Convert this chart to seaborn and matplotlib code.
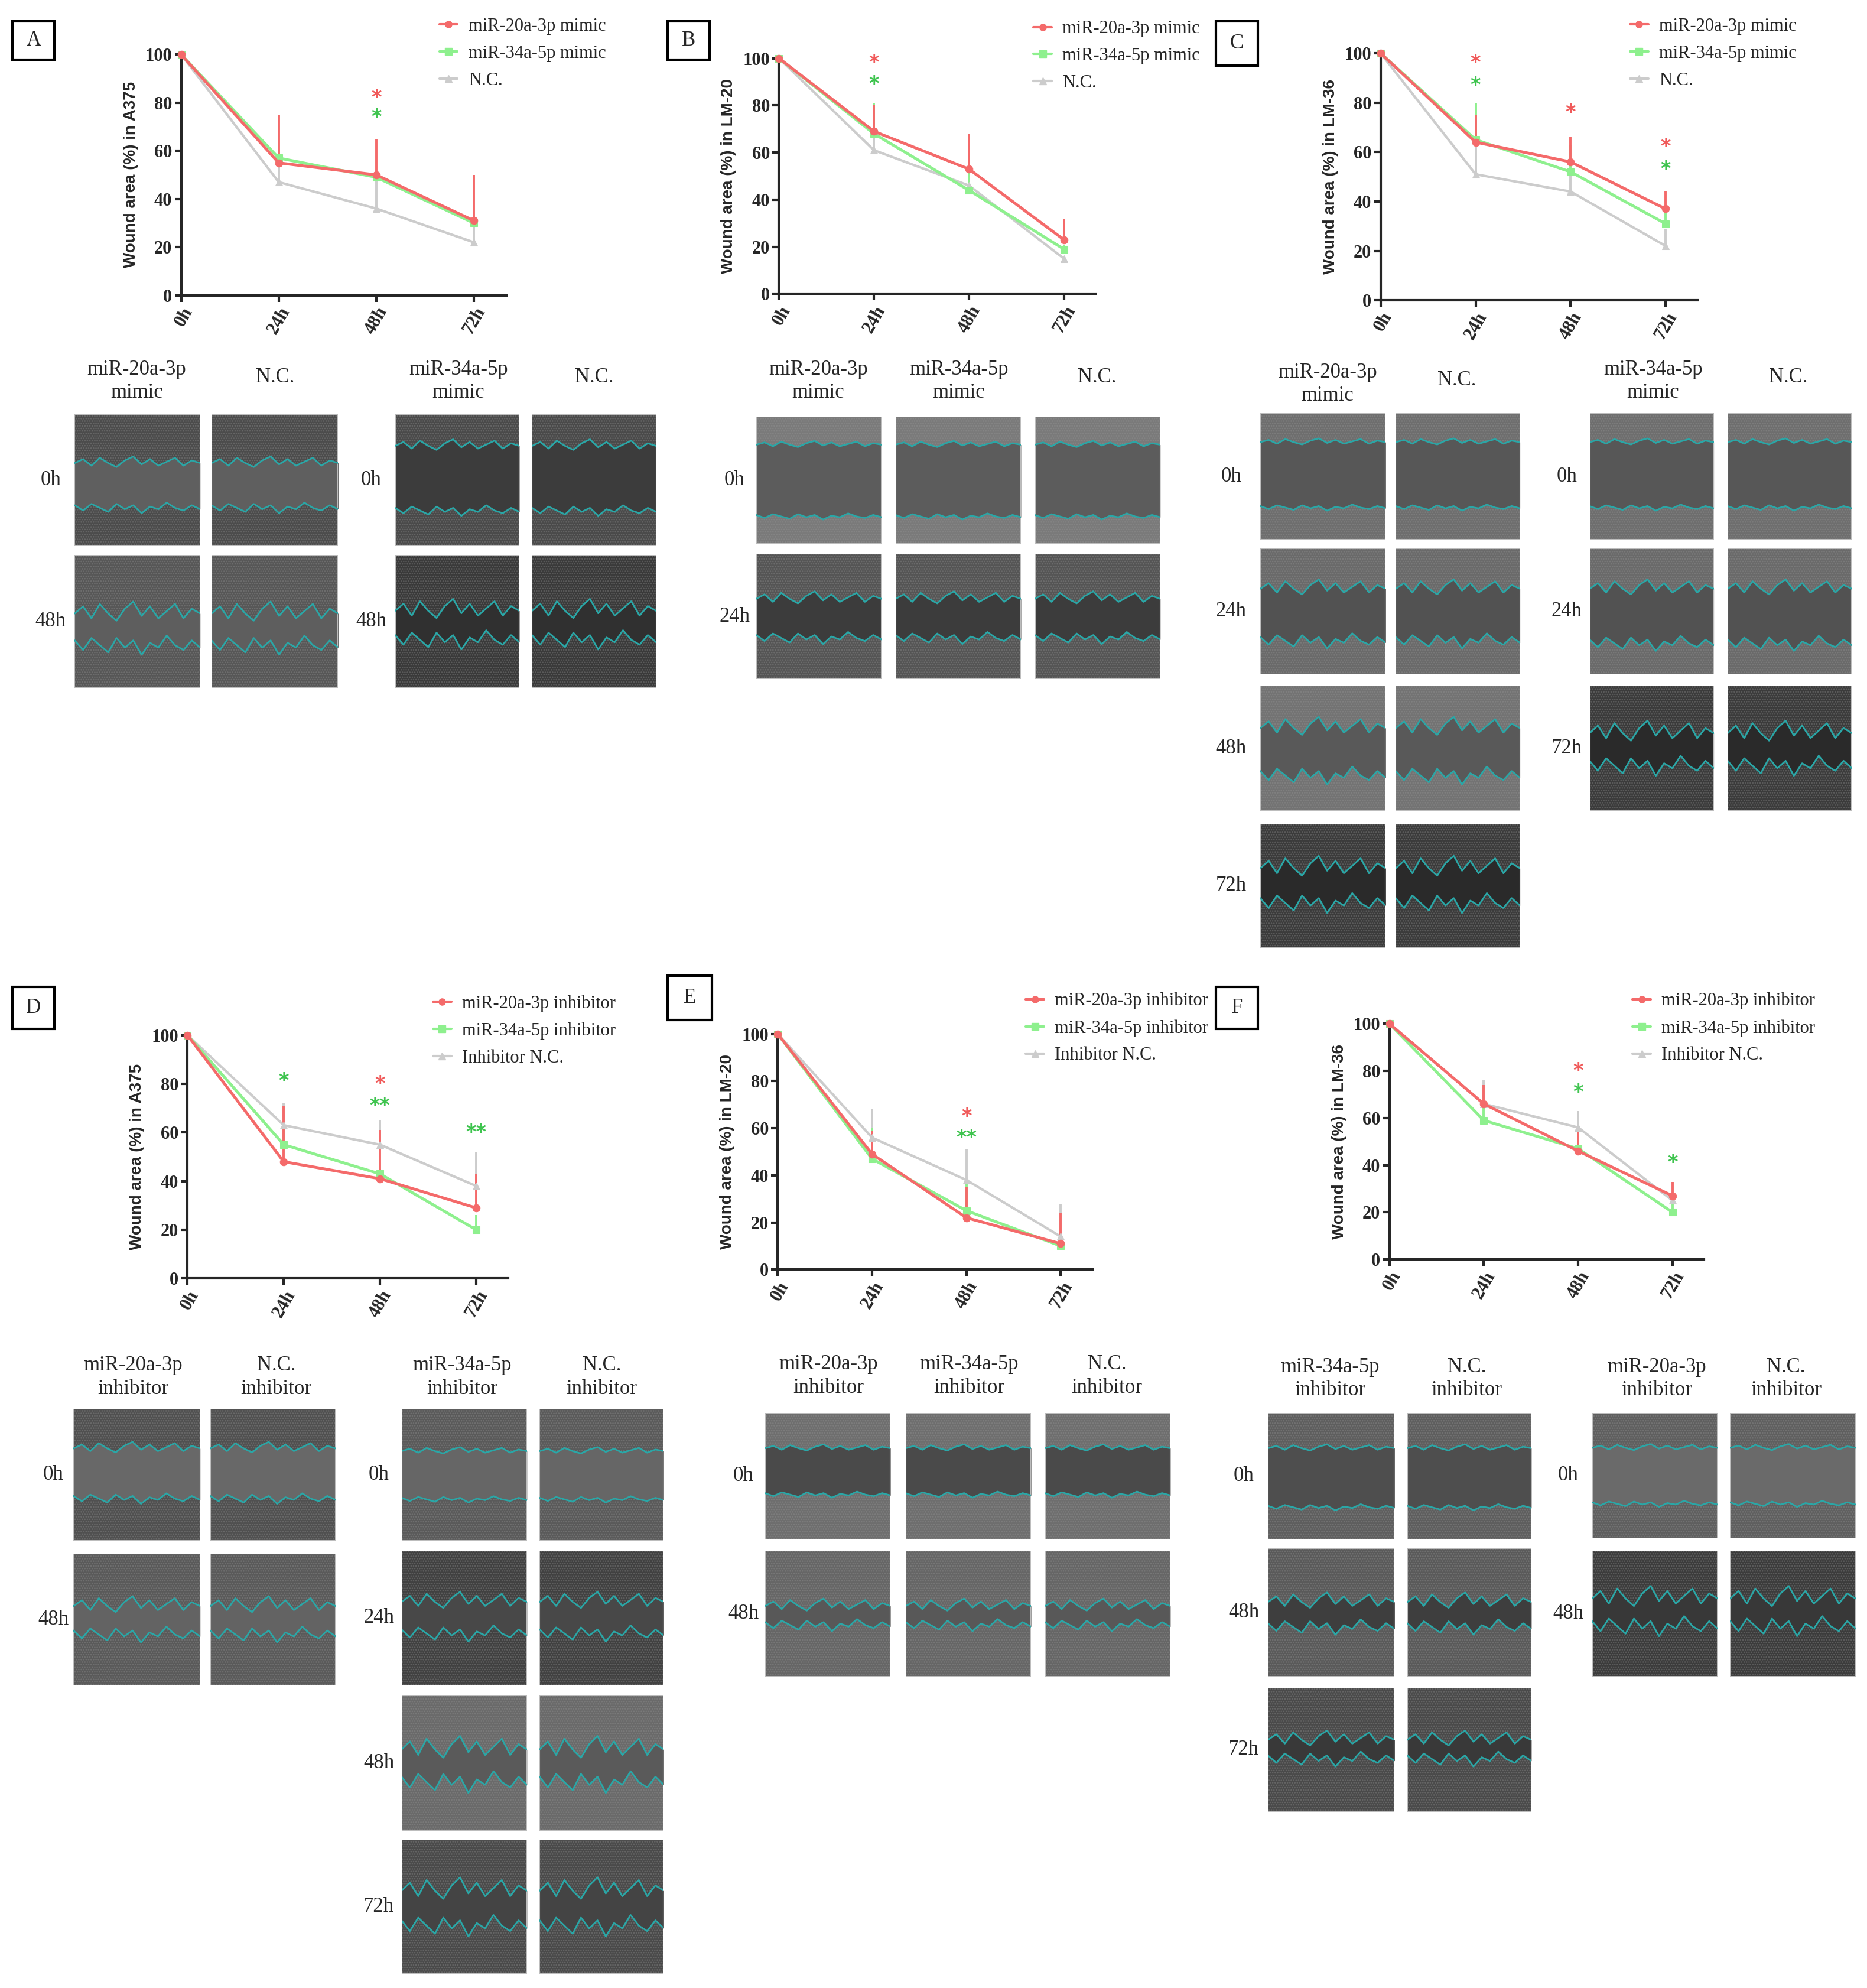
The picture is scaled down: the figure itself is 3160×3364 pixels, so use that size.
import numpy as np
import pandas as pd
import seaborn as sns
import matplotlib.pyplot as plt
from matplotlib.lines import Line2D
from matplotlib.patches import Rectangle

sns.set_style("ticks")
plt.rcParams["font.family"] = ["Liberation Serif", "DejaVu Serif"]
plt.rcParams["hatch.linewidth"] = 1.2

# ---------------- data ----------------
times = [0, 24, 48, 72]
time_labels = ["0h", "24h", "48h", "72h"]

# A: A375, mimic
a_mir20 = [100, 55, 50, 31]
a_mir20_err = [0, 20, 15, 19]
a_mir34 = [100, 57, 49, 30]
a_mir34_err = [0, 0, 0, 0]
a_nc = [100, 47, 36, 22]
a_nc_err = [0, 8, 14, 8]

# B: LM-20, mimic
b_mir20 = [100, 69, 53, 23]
b_mir20_err = [0, 11, 15, 9]
b_mir34 = [100, 68, 44, 19]
b_mir34_err = [0, 13, 8, 2]
b_nc = [100, 61, 46, 15]
b_nc_err = [0, 6, 0, 0]

# C: LM-36, mimic
c_mir20 = [100, 64, 56, 37]
c_mir20_err = [0, 11, 10, 7]
c_mir34 = [100, 65, 52, 31]
c_mir34_err = [0, 15, 11, 5]
c_nc = [100, 51, 44, 22]
c_nc_err = [0, 12, 7, 7]

# D: A375, inhibitor
d_mir20 = [100, 48, 41, 29]
d_mir20_err = [0, 23, 20, 14]
d_mir34 = [100, 55, 43, 20]
d_mir34_err = [0, 8, 2, 6]
d_nc = [100, 63, 55, 38]
d_nc_err = [0, 9, 10, 14]

# E: LM-20, inhibitor
e_mir20 = [100, 49, 22, 11]
e_mir20_err = [0, 10, 13, 13]
e_mir34 = [100, 47, 25, 10]
e_mir34_err = [0, 13, 13, 2]
e_nc = [100, 56, 38, 14]
e_nc_err = [0, 12, 13, 14]

# F: LM-36, inhibitor
f_mir20 = [100, 66, 46, 27]
f_mir20_err = [0, 8, 9, 6]
f_mir34 = [100, 59, 47, 20]
f_mir34_err = [0, 6, 8, 5]
f_nc = [100, 66, 56, 25]
f_nc_err = [0, 10, 7, 3]

# significance marks: (time, height, text, series)
a_stars = [(48, 82, "*", "r"), (48, 74, "*", "g")]
b_stars = [(24, 98, "*", "r"), (24, 89, "*", "g")]
c_stars = [(24, 96, "*", "r"), (24, 87, "*", "g"), (48, 76, "*", "r"),
           (72, 62, "*", "r"), (72, 53, "*", "g")]
d_stars = [(24, 81, "*", "g"), (48, 80, "*", "r"), (48, 71, "**", "g"),
           (72, 60, "**", "g")]
e_stars = [(48, 65, "*", "r"), (48, 56, "**", "g")]
f_stars = [(48, 80, "*", "r"), (48, 71, "*", "g"), (72, 41, "*", "g")]

mimic_labels = ["miR-20a-3p mimic", "miR-34a-5p mimic", "N.C."]
inhib_labels = ["miR-20a-3p inhibitor", "miR-34a-5p inhibitor", "Inhibitor N.C."]

# ---------------- styling ----------------
RED = "#f46a6a"
GREEN = "#8ef08e"
GRAY = "#cccccc"
STAR = {"r": "#f05a5a", "g": "#3fc44f"}
CYAN = "#2aa7a7"

W, H = 1474.0, 1569.0  # layout grid (reference thumbnail pixels)

fig = plt.figure(figsize=(31.6, 33.64), dpi=100)
fig.patch.set_facecolor("white")


def fx(x):
    return x / W


def fy(y):
    return 1 - y / H


def panel_letter(letter, x0, y0, x1, y1):
    fig.patches.append(Rectangle((fx(x0), fy(y1)), fx(x1) - fx(x0), fy(y0) - fy(y1),
                                 transform=fig.transFigure, fill=False,
                                 edgecolor="black", linewidth=3))
    fig.text(fx((x0 + x1) / 2), fy((y0 + y1) / 2), letter, ha="center",
             va="center", fontsize=25)


def chart(x0, y0, y100, spacing, mir20, mir20_err, mir34, mir34_err, nc, nc_err,
          stars, labels, ylabel, leg_x, leg_y):
    width = spacing * 80 / 24
    ax = fig.add_axes([fx(x0), fy(y0), width / W, (y0 - y100) / H])
    ax.set_facecolor("none")
    series = [(nc, nc_err, GRAY, "^", 3.0), (mir34, mir34_err, GREEN, "s", 3.5),
              (mir20, mir20_err, RED, "o", 3.5)]
    for vals, errs, color, marker, lw in series:
        df = pd.DataFrame({"time": times, "value": vals})
        sns.lineplot(data=df, x="time", y="value", color=color, marker=marker,
                     markersize=9, markeredgecolor=color, linewidth=lw, ax=ax,
                     legend=False, clip_on=False, zorder=3)
        ax.errorbar(times, vals, yerr=[[0] * len(errs), errs], fmt="none",
                    ecolor=color, elinewidth=2.8, capsize=0, clip_on=False, zorder=2)
    for t, h, s, key in stars:
        ax.text(t, h, s, ha="center", va="center", color=STAR[key], fontsize=24,
                fontweight="bold", family="DejaVu Sans")
    ax.set_xlim(0, 80)
    ax.set_ylim(0, 100)
    ax.set_xticks(times)
    ax.set_xticklabels(time_labels, rotation=60, ha="right", rotation_mode="anchor",
                       fontsize=22, fontweight="bold")
    ax.set_yticks(range(0, 101, 20))
    ax.set_yticklabels([str(v) for v in range(0, 101, 20)], fontsize=22,
                       fontweight="bold")
    ax.set_xlabel("")
    ax.set_ylabel(ylabel, fontsize=20, fontweight="bold", family="Liberation Sans",
                  labelpad=8)
    sns.despine(ax=ax)
    for sp in ("left", "bottom"):
        ax.spines[sp].set_linewidth(3)
    ax.tick_params(width=3, length=8, direction="out", pad=3)
    handles = [Line2D([0], [0], color=c, marker=m, lw=3, markersize=8)
               for c, m in ((RED, "o"), (GREEN, "s"), (GRAY, "^"))]
    ax.legend(handles, labels, loc="upper left", bbox_to_anchor=(fx(leg_x), fy(leg_y)),
              bbox_transform=fig.transFigure, frameon=False, fontsize=22,
              handlelength=1.0, handletextpad=0.6, labelspacing=0.55,
              borderaxespad=0, borderpad=0)
    return ax


# hand-traced wobble of the wound edges
wave_top = [0.00, 0.03, -0.02, 0.04, 0.00, -0.03, 0.02, 0.05, -0.01, 0.03,
            -0.02, 0.01, 0.04, -0.02, 0.02, 0.00]
wave_bot = [0.01, -0.03, 0.02, -0.01, -0.04, 0.02, -0.02, 0.01, -0.05, 0.00,
            -0.02, 0.03, -0.01, -0.03, 0.01, -0.02]


def well(x0, x1, y0, y1, cell, wound, top, bot, jag):
    ax = fig.add_axes([fx(x0), fy(y1), (x1 - x0) / W, (y1 - y0) / H])
    ax.set_xlim(0, 1)
    ax.set_ylim(0, 1)
    ax.set_axis_off()
    ax.add_patch(Rectangle((0, 0), 1, 1, facecolor=cell, edgecolor="none"))
    ax.add_patch(Rectangle((0, 0), 1, 1, facecolor="none", edgecolor="#9a9a9a",
                           hatch="....", linewidth=0, alpha=0.35))
    xs = np.linspace(0, 1, len(wave_top))
    yt = top + jag * np.array(wave_top)
    yb = bot + jag * np.array(wave_bot)
    ax.fill_between(xs, yb, yt, color=wound, linewidth=0)
    ax.plot(xs, yt, color=CYAN, lw=2)
    ax.plot(xs, yb, color=CYAN, lw=2)
    ax.add_patch(Rectangle((0, 0), 1, 1, facecolor="none", edgecolor="#bdbdbd",
                           linewidth=1.5))


def block(cols, rows, styles, row_labels, label_x, headers, header_y):
    for (y0, y1), (cell, wound, top, bot, jag), lab in zip(rows, styles, row_labels):
        for x0, x1 in cols:
            well(x0, x1, y0, y1, cell, wound, top, bot, jag)
        fig.text(fx(label_x), fy((y0 + y1) / 2), lab, ha="center", va="center",
                 fontsize=25)
    for text, xc in headers:
        yy = header_y if "\n" in text else header_y - 3
        fig.text(fx(xc), fy(yy), text, ha="center", va="center", fontsize=25,
                 linespacing=1.25)


# ---------------- charts ----------------
panel_letter("A", 10, 17, 43, 47)
chart(143, 233, 43, 77, a_mir20, a_mir20_err, a_mir34, a_mir34_err, a_nc, a_nc_err,
      a_stars, mimic_labels, "Wound area (%) in A375", 347, 14)
panel_letter("B", 527, 17, 560, 47)
chart(615, 232, 46, 75, b_mir20, b_mir20_err, b_mir34, b_mir34_err, b_nc, b_nc_err,
      b_stars, mimic_labels, "Wound area (%) in LM-20", 816, 16)
panel_letter("C", 960, 17, 993, 52)
chart(1090, 237, 42, 75, c_mir20, c_mir20_err, c_mir34, c_mir34_err, c_nc, c_nc_err,
      c_stars, mimic_labels, "Wound area (%) in LM-36", 1287, 14)
panel_letter("D", 10, 779, 43, 812)
chart(148, 1009, 817, 76, d_mir20, d_mir20_err, d_mir34, d_mir34_err, d_nc, d_nc_err,
      d_stars, inhib_labels, "Wound area (%) in A375", 342, 785)
panel_letter("E", 527, 770, 562, 805)
chart(614, 1002, 816, 74.5, e_mir20, e_mir20_err, e_mir34, e_mir34_err, e_nc, e_nc_err,
      e_stars, inhib_labels, "Wound area (%) in LM-20", 810, 783)
panel_letter("F", 960, 779, 993, 812)
chart(1097, 994, 808, 74.5, f_mir20, f_mir20_err, f_mir34, f_mir34_err, f_nc, f_nc_err,
      f_stars, inhib_labels, "Wound area (%) in LM-36", 1289, 783)

# ---------------- scratch-wound micrographs ----------------
block([(59, 158), (167, 267)], [(327, 431), (438, 543)],
      [("#4c4c4c", "#5f5f5f", 0.63, 0.30, 1.0), ("#575757", "#5e5e5e", 0.56, 0.34, 1.8)],
      ["0h", "48h"], 40, [("miR-20a-3p\nmimic", 108), ("N.C.", 217)], 301)
block([(312, 410), (420, 518)], [(327, 431), (438, 543)],
      [("#4a4a4a", "#3c3c3c", 0.76, 0.28, 1.0), ("#3a3a3a", "#303030", 0.58, 0.38, 1.8)],
      ["0h", "48h"], 293, [("miR-34a-5p\nmimic", 362), ("N.C.", 469)], 301)
block([(597, 696), (707, 806), (817, 916)], [(329, 429), (437, 536)],
      [("#7a7a7a", "#5c5c5c", 0.78, 0.22, 0.6), ("#555555", "#3c3c3c", 0.64, 0.34, 1.2)],
      ["0h", "24h"], 580, [("miR-20a-3p\nmimic", 646), ("miR-34a-5p\nmimic", 757),
                           ("N.C.", 866)], 301)
block([(995, 1094), (1102, 1200)], [(326, 426), (433, 532), (541, 640), (650, 748)],
      [("#6e6e6e", "#575757", 0.77, 0.26, 0.6), ("#6a6a6a", "#525252", 0.68, 0.28, 1.5),
       ("#737373", "#595959", 0.66, 0.30, 1.8), ("#3b3b3b", "#2a2a2a", 0.64, 0.38, 2.0)],
      ["0h", "24h", "48h", "72h"], 972, [("miR-20a-3p\nmimic", 1048), ("N.C.", 1150)], 303)
block([(1255, 1353), (1364, 1462)], [(326, 426), (433, 532), (541, 640)],
      [("#6e6e6e", "#575757", 0.77, 0.26, 0.6), ("#6a6a6a", "#525252", 0.68, 0.26, 1.5),
       ("#3b3b3b", "#2a2a2a", 0.62, 0.38, 2.0)],
      ["0h", "24h", "72h"], 1237, [("miR-34a-5p\nmimic", 1305), ("N.C.", 1412)], 301)
block([(58, 158), (166, 265)], [(1112, 1216), (1226, 1330)],
      [("#505050", "#686868", 0.70, 0.33, 1.0), ("#5a5a5a", "#636363", 0.60, 0.40, 1.5)],
      ["0h", "48h"], 42, [("miR-20a-3p\ninhibitor", 105), ("N.C.\ninhibitor", 218)], 1087)
block([(317, 416), (426, 524)], [(1112, 1216), (1224, 1330), (1338, 1445), (1452, 1558)],
      [("#5a5a5a", "#666666", 0.68, 0.32, 0.6), ("#414141", "#484848", 0.62, 0.40, 1.5),
       ("#6a6a6a", "#5a5a5a", 0.60, 0.38, 2.0), ("#4a4a4a", "#444444", 0.62, 0.38, 2.0)],
      ["0h", "24h", "48h", "72h"], 299,
      [("miR-34a-5p\ninhibitor", 365), ("N.C.\ninhibitor", 475)], 1087)
block([(604, 703), (715, 814), (825, 924)], [(1115, 1215), (1224, 1323)],
      [("#6e6e6e", "#4a4a4a", 0.72, 0.36, 0.6), ("#666666", "#585858", 0.56, 0.42, 1.2)],
      ["0h", "48h"], 587, [("miR-20a-3p\ninhibitor", 654), ("miR-34a-5p\ninhibitor", 765),
                           ("N.C.\ninhibitor", 874)], 1086)
block([(1001, 1101), (1111, 1209)], [(1115, 1215), (1222, 1323), (1332, 1430)],
      [("#5e5e5e", "#4e4e4e", 0.72, 0.26, 0.6), ("#5a5a5a", "#3e3e3e", 0.58, 0.40, 1.5),
       ("#4a4a4a", "#393939", 0.58, 0.44, 1.5)],
      ["0h", "48h", "72h"], 982, [("miR-34a-5p\ninhibitor", 1050), ("N.C.\ninhibitor", 1158)], 1088)
block([(1257, 1356), (1366, 1465)], [(1115, 1214), (1224, 1323)],
      [("#5f5f5f", "#6a6a6a", 0.72, 0.28, 0.6), ("#3c3c3c", "#383838", 0.62, 0.42, 2.0)],
      ["0h", "48h"], 1238, [("miR-20a-3p\ninhibitor", 1308), ("N.C.\ninhibitor", 1410)], 1088)

fig.savefig("out.png", dpi=100, facecolor="white")
